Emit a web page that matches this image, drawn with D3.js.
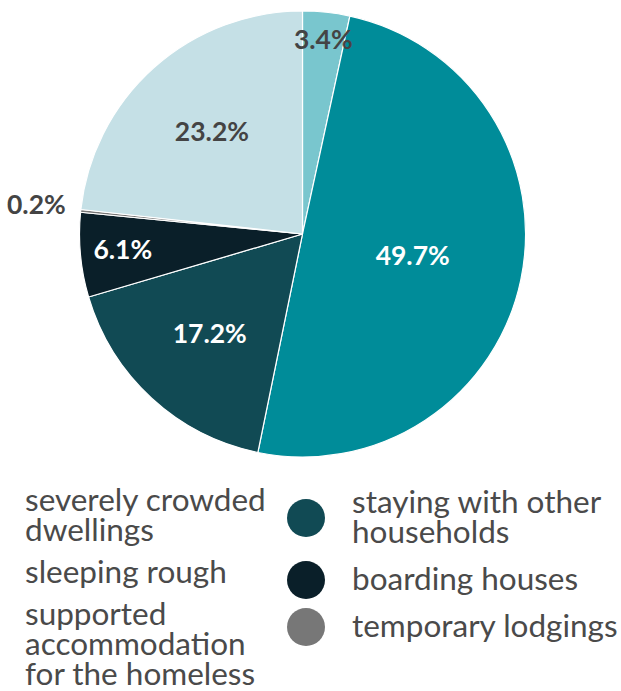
<!DOCTYPE html>
<html>
<head>
<meta charset="utf-8">
<script src="https://cdn.jsdelivr.net/npm/d3@7"></script>
<style>
  html, body { margin: 0; padding: 0; background: #ffffff; }
  svg { display: block; }
</style>
</head>
<body>
<svg id="chart" width="621" height="691"></svg>
<script>
// ---- data (pie order, clockwise from 12 o'clock) ----
const categories = [
  "sleeping rough",
  "severely crowded dwellings",
  "staying with other households",
  "boarding houses",
  "temporary lodgings",
  "supported accommodation for the homeless"
];
const values = [3.4, 49.7, 17.2, 6.1, 0.2, 23.2];
const valueLabels = ["3.4%", "49.7%", "17.2%", "6.1%", "0.2%", "23.2%"];

// legend order (column-wise) and line breaks
const legendOrder = [
  "severely crowded dwellings",
  "sleeping rough",
  "supported accommodation for the homeless",
  "staying with other households",
  "boarding houses",
  "temporary lodgings"
];
const legendLines = [
  ["severely crowded", "dwellings"],
  ["sleeping rough"],
  ["supported", "accommodation", "for the homeless"],
  ["staying with other", "households"],
  ["boarding houses"],
  ["temporary lodgings"]
];

// ---- styles ----
const colorRange = ["#79c6ce", "#008c99", "#114a54", "#0a1f29", "#777777", "#c5e0e6"];
const labelFill = ["#444444", "#ffffff", "#ffffff", "#ffffff", "#444444", "#444444"];

const W = 621, H = 691;
const cx = 302.5, cy = 234, R = 223;

const svg = d3.select("#chart");
const color = d3.scaleOrdinal().domain(categories).range(colorRange);

const pie = d3.pie().sort(null).value(d => d.value).startAngle(0).endAngle(2 * Math.PI);
const data = categories.map((c, i) => ({ name: c, value: values[i], label: valueLabels[i], fill: labelFill[i] }));
const arcs = pie(data);
const arc = d3.arc().innerRadius(0).outerRadius(R);
const total = d3.sum(values);

const g = svg.append("g").attr("transform", `translate(${cx},${cy})`);

g.selectAll("path.slice")
  .data(arcs)
  .join("path")
  .attr("class", "slice")
  .attr("d", arc)
  .attr("fill", d => color(d.data.name))
  .attr("stroke", "#ffffff")
  .attr("stroke-width", 1.2)
  .attr("stroke-linejoin", "round");

// label radius rule: big slices near sector centroid, small ones pushed outward, tiny outside
function labelRadius(d) {
  const p = d.data.value / total;
  const half = (d.endAngle - d.startAngle) / 2;
  if (p < 0.01) return R * 1.2;
  if (p < 0.12) return R * (0.95 - 2.3 * p);
  const centroid = 2 * Math.sin(half) / (3 * half);
  return R * Math.max(0.505, Math.min(centroid, 0.615));
}

g.selectAll("text.val")
  .data(arcs)
  .join("text")
  .attr("class", "val")
  .attr("x", d => { const a = (d.startAngle + d.endAngle) / 2; return Math.sin(a) * labelRadius(d); })
  .attr("y", d => { const a = (d.startAngle + d.endAngle) / 2; return -Math.cos(a) * labelRadius(d); })
  .attr("dy", "0.3em")
  .attr("text-anchor", "middle")
  .attr("font-family", "Lato, 'Open Sans', sans-serif")
  .attr("font-weight", 700)
  .attr("font-size", 26.5)
  .attr("fill", d => d.data.fill)
  .text(d => d.data.label);

// ---- legend (two columns, overflowing to the left like the original) ----
const legendX0 = -21, colW = 327, markerR = 19, textOff = 46;
const colFirstBaseline = [511, 513], lineH = 30, colItemGap = [42, 47];
const rowsPerCol = 3;

const legend = svg.append("g").attr("class", "legend");
let colY = colFirstBaseline.slice();
legendOrder.forEach((name, i) => {
  const col = Math.floor(i / rowsPerCol);
  const x = legendX0 + col * colW;
  const y = colY[col];
  const lines = legendLines[i];
  const item = legend.append("g");
  item.append("circle")
    .attr("cx", x)
    .attr("cy", y + (lines.length - 1) * lineH / 2 - 10)
    .attr("r", markerR)
    .attr("fill", color(name));
  const t = item.append("text")
    .attr("x", x + textOff)
    .attr("y", y)
    .attr("font-family", "Lato, 'Open Sans', sans-serif")
    .attr("font-size", 31.5)
    .attr("fill", "#4a4a4a");
  lines.forEach((ln, k) => {
    t.append("tspan").attr("x", x + textOff).attr("y", y + k * lineH).text(ln);
  });
  colY[col] = y + (lines.length - 1) * lineH + colItemGap[col];
});
</script>
</body>
</html>
